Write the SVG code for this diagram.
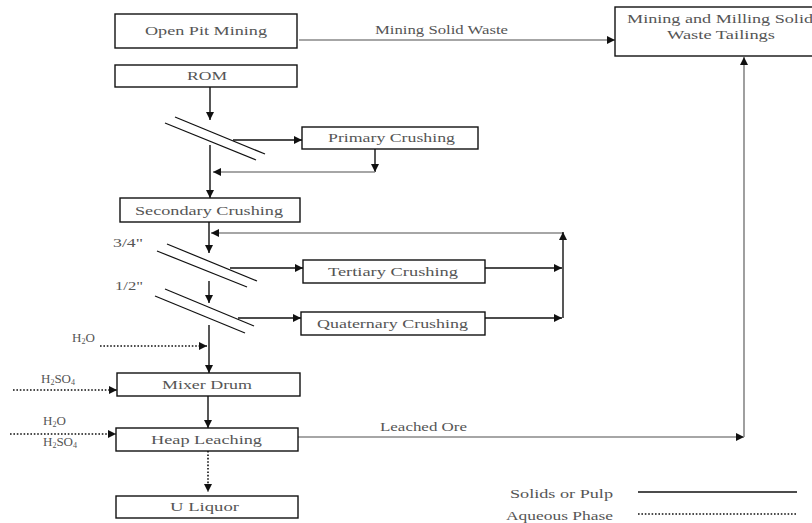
<svg xmlns="http://www.w3.org/2000/svg" width="812" height="523" viewBox="0 0 812 523">
<defs>
<style>
.box{fill:#fff;stroke:#111;stroke-width:1.4}
.t{font-family:"Liberation Serif","Times New Roman",serif;font-size:13px;fill:#555}
.s{fill:none;stroke:#111;stroke-width:1.4}
.g{fill:none;stroke:#888;stroke-width:1.6}
.d{fill:none;stroke:#111;stroke-width:1.6;stroke-dasharray:1.6 1.8}
.scr{stroke:#111;stroke-width:1.2}
</style>
<marker id="ah" viewBox="0 0 10 10" refX="10" refY="5" markerWidth="9" markerHeight="8" markerUnits="userSpaceOnUse" orient="auto">
<path d="M0,0 L10,5 L0,10 z" fill="#111"/>
</marker>
</defs>
<rect width="812" height="523" fill="#fff"/>

<g id="connectors">
<line class="g" x1="299" y1="40" x2="615" y2="40" marker-end="url(#ah)"/>
<line class="s" x1="210" y1="87" x2="210" y2="120" marker-end="url(#ah)"/>
<line class="s" x1="233" y1="140" x2="302" y2="140" marker-end="url(#ah)"/>
<line class="s" x1="210" y1="145" x2="210" y2="198" marker-end="url(#ah)"/>
<line class="s" x1="375" y1="149" x2="375" y2="172" marker-end="url(#ah)"/>
<line class="g" x1="375" y1="172" x2="213" y2="172" marker-end="url(#ah)"/>
<line class="s" x1="209" y1="222" x2="209" y2="253" marker-end="url(#ah)"/>
<line class="g" x1="563" y1="233" x2="211" y2="233" marker-end="url(#ah)"/>
<line class="s" x1="563" y1="318" x2="563" y2="232" marker-end="url(#ah)"/>
<line class="s" x1="230" y1="268" x2="303" y2="268" marker-end="url(#ah)"/>
<line class="s" x1="485" y1="268" x2="562" y2="268" marker-end="url(#ah)"/>
<line class="s" x1="209" y1="281" x2="209" y2="303" marker-end="url(#ah)"/>
<line class="s" x1="238" y1="318" x2="301" y2="318" marker-end="url(#ah)"/>
<line class="s" x1="485" y1="318" x2="562" y2="318" marker-end="url(#ah)"/>
<line class="s" x1="209" y1="325" x2="209" y2="373" marker-end="url(#ah)"/>
<line class="d" x1="100" y1="346" x2="207" y2="346" marker-end="url(#ah)"/>
<line class="d" x1="13" y1="390" x2="117" y2="390" marker-end="url(#ah)"/>
<line class="s" x1="208" y1="396" x2="208" y2="428" marker-end="url(#ah)"/>
<line class="d" x1="10" y1="434" x2="116" y2="434" marker-end="url(#ah)"/>
<line class="d" x1="208" y1="451" x2="208" y2="492" marker-end="url(#ah)"/>
<line class="g" x1="298" y1="437" x2="744" y2="437" marker-end="url(#ah)"/>
<line class="g" x1="744" y1="437" x2="744" y2="57" marker-end="url(#ah)"/>
<line class="scr" x1="175" y1="117" x2="265" y2="154"/>
<line class="scr" x1="165" y1="123" x2="256" y2="160"/>
<line class="scr" x1="167" y1="244" x2="257" y2="281"/>
<line class="scr" x1="157" y1="251" x2="247" y2="287"/>
<line class="scr" x1="165" y1="289" x2="254" y2="326"/>
<line class="scr" x1="155" y1="296" x2="245" y2="333"/>
<text class="t" x="375" y="34" textLength="133" lengthAdjust="spacingAndGlyphs">Mining Solid Waste</text>
<text class="t" x="380" y="431" textLength="87" lengthAdjust="spacingAndGlyphs">Leached Ore</text>
<text class="t" x="113" y="247" textLength="30" lengthAdjust="spacingAndGlyphs">3/4"</text>
<text class="t" x="115" y="290" textLength="28" lengthAdjust="spacingAndGlyphs">1/2"</text>
<text class="t" x="72" y="342">H<tspan font-size="8" dy="2">2</tspan><tspan dy="-2">O</tspan></text>
<text class="t" x="41" y="383">H<tspan font-size="8" dy="2">2</tspan><tspan dy="-2">SO</tspan><tspan font-size="8" dy="2">4</tspan></text>
<text class="t" x="43" y="425">H<tspan font-size="8" dy="2">2</tspan><tspan dy="-2">O</tspan></text>
<text class="t" x="43" y="446">H<tspan font-size="8" dy="2">2</tspan><tspan dy="-2">SO</tspan><tspan font-size="8" dy="2">4</tspan></text>
</g>

<g id="open-pit-mining">
<rect class="box" x="115" y="14" width="182" height="34"/>
<text class="t" x="145" y="35" textLength="122" lengthAdjust="spacingAndGlyphs">Open Pit Mining</text>
</g>
<g id="rom">
<rect class="box" x="115" y="65" width="182" height="22"/>
<text class="t" x="187" y="80" textLength="40" lengthAdjust="spacingAndGlyphs">ROM</text>
</g>
<g id="tailings">
<rect class="box" x="615" y="7" width="210" height="49"/>
<text class="t" x="627" y="23" textLength="186" lengthAdjust="spacingAndGlyphs">Mining and Milling Solid</text>
<text class="t" x="667" y="39" textLength="108" lengthAdjust="spacingAndGlyphs">Waste Tailings</text>
</g>
<g id="primary-crushing">
<rect class="box" x="302" y="127" width="176" height="22"/>
<text class="t" x="328" y="142" textLength="127" lengthAdjust="spacingAndGlyphs">Primary Crushing</text>
</g>
<g id="secondary-crushing">
<rect class="box" x="120" y="198" width="180" height="24"/>
<text class="t" x="135" y="215" textLength="148" lengthAdjust="spacingAndGlyphs">Secondary Crushing</text>
</g>
<g id="tertiary-crushing">
<rect class="box" x="303" y="260" width="182" height="23"/>
<text class="t" x="328" y="276" textLength="130" lengthAdjust="spacingAndGlyphs">Tertiary Crushing</text>
</g>
<g id="quaternary-crushing">
<rect class="box" x="301" y="312" width="184" height="23"/>
<text class="t" x="317" y="328" textLength="151" lengthAdjust="spacingAndGlyphs">Quaternary Crushing</text>
</g>
<g id="mixer-drum">
<rect class="box" x="117" y="373" width="183" height="23"/>
<text class="t" x="162" y="389" textLength="90" lengthAdjust="spacingAndGlyphs">Mixer Drum</text>
</g>
<g id="heap-leaching">
<rect class="box" x="116" y="428" width="182" height="23"/>
<text class="t" x="151" y="444" textLength="111" lengthAdjust="spacingAndGlyphs">Heap Leaching</text>
</g>
<g id="u-liquor">
<rect class="box" x="116" y="496" width="182" height="22"/>
<text class="t" x="170" y="511" textLength="69" lengthAdjust="spacingAndGlyphs">U Liquor</text>
</g>
<g id="legend">
<text class="t" x="510" y="498" textLength="103" lengthAdjust="spacingAndGlyphs">Solids or Pulp</text>
<line class="s" x1="638" y1="492" x2="797" y2="492"/>
<text class="t" x="506" y="520" textLength="107" lengthAdjust="spacingAndGlyphs">Aqueous Phase</text>
<line class="d" x1="638" y1="514" x2="797" y2="514"/>
</g>
</svg>
